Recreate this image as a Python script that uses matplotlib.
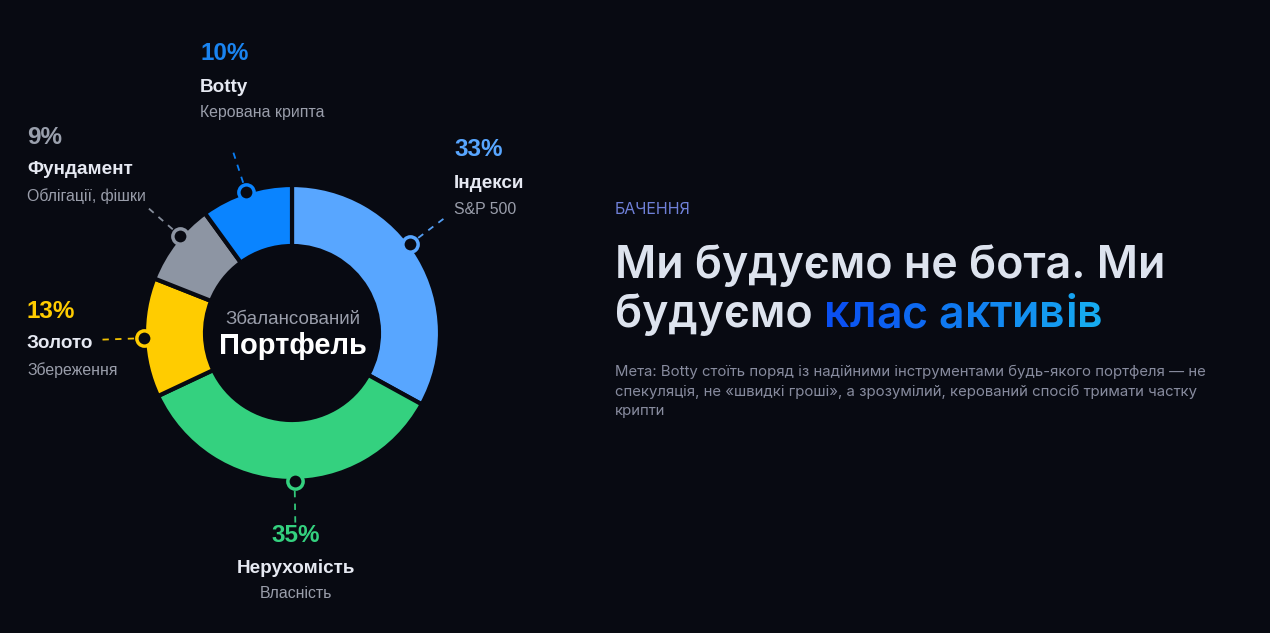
import numpy as np
import matplotlib.pyplot as plt
from matplotlib.colors import to_rgb

# дані портфеля (за годинниковою стрілкою від 12 години)
values = [33, 35, 13, 9, 10]
colors = ['#58a6ff', '#34d17f', '#ffcc00', '#8d95a3', '#0a84ff']
pct_colors = ['#58a6ff', '#34d17f', '#ffcc00', '#9aa0ad', '#1a84f0']
titles = ['Індекси', 'Нерухомість', 'Золото', 'Фундамент', 'Botty']
subtitles = ['S&P 500', 'Власність', 'Збереження', 'Облігації, фішки', 'Керована крипта']
# розмітка: кути маркерів (град. від 12 год) і позиції підписів (px)
marker_deg = [53, 179, 268, 311, 342]
label_x = [454, 296, 27, 27, 200]
label_y = [150, 535, 311, 137, 54]
label_ha = ['left', 'center', 'left', 'left', 'left']

bg = '#080a12'
W, H = 1270, 633
cx, cy = 292, 333
R, ring = 148, 61

fig = plt.figure(figsize=(12.7, 6.33), dpi=100, facecolor=bg)
ax = fig.add_axes([0, 0, 1, 1])
ax.set_facecolor(bg)

ax.pie(values, colors=colors, startangle=90, counterclock=False, radius=R,
       center=(cx, H - cy),
       wedgeprops=dict(width=ring, edgecolor=bg, linewidth=3))
ax.set_xlim(0, W)
ax.set_ylim(0, H)
ax.set_aspect('equal')
ax.axis('off')

lab_font = ['Liberation Sans', 'DejaVu Sans']


def T(x, y, s, **kw):
    kw.setdefault('family', lab_font)
    return ax.text(x, H - y, s, **kw)


# маркери та пунктирні виноски
for i, v in enumerate(values):
    th = np.deg2rad(marker_deg[i])
    dx, dy = np.sin(th), np.cos(th)
    mx, my = cx + R * dx, (H - cy) + R * dy
    ax.plot([cx + (R + 10) * dx, cx + (R + 46) * dx],
            [(H - cy) + (R + 10) * dy, (H - cy) + (R + 46) * dy],
            ls=(0, (3.5, 3.5)), lw=1.3, color=colors[i], alpha=0.95, zorder=3)
    ax.plot(mx, my, 'o', ms=11, mfc=bg, mec=colors[i], mew=2.5, zorder=4)

    x, y, ha = label_x[i], label_y[i], label_ha[i]
    T(x, y, f'{v}%', fontsize=17.5, fontweight='bold', color=pct_colors[i],
      ha=ha, va='center')
    T(x, y + 33, titles[i], fontsize=13.6, fontweight='bold', color='#e6e9f2',
      ha=ha, va='center')
    T(x, y + 59, subtitles[i], fontsize=11.4, color='#9a9eab', ha=ha, va='center')

# центр кільця
T(cx + 1, 319, 'Збалансований', fontsize=13.5, color='#9a9eab', ha='center', va='center')
T(cx + 1, 346, 'Портфель', fontsize=21, fontweight='bold', color='#ffffff',
  ha='center', va='center')

# права частина
rt_font = ['Inter', 'DejaVu Sans']
T(615, 209, 'БАЧЕННЯ', fontsize=11.5, color='#6f80d8', ha='left', va='center',
  family=rt_font)
head_kw = dict(fontsize=32.2, fontweight='semibold', family=rt_font, va='baseline', ha='left')
T(615, 278, 'Ми будуємо не бота. Ми', color='#dde3ee', **head_kw)
first = 'будуємо '
grad = 'клас активів'
T(615, 327, first, color='#dde3ee', **head_kw)

renderer = fig.canvas.get_renderer()


def width(s):
    t = T(0, 0, s + '|', **head_kw)
    w = t.get_window_extent(renderer).width
    t.remove()
    return w


bar_w = width('')
c0, c1 = np.array(to_rgb('#0a50f2')), np.array(to_rgb('#16aaf0'))
n = len(grad)
for i, ch in enumerate(grad):
    if ch == ' ':
        continue
    x = 615 + width(first + grad[:i]) - bar_w
    f = i / (n - 1)
    T(x, 327, ch, color=tuple(c0 + (c1 - c0) * f), **head_kw)

body = ['Мета: Botty стоїть поряд із надійними інструментами будь-якого портфеля — не',
        'спекуляція, не «швидкі гроші», а зрозумілий, керований спосіб тримати частку',
        'крипти']
for k, line in enumerate(body):
    T(615, 372 + k * 19.7, line, fontsize=10.75, color='#878b9e', ha='left', va='center',
      family=rt_font)

plt.savefig('out.png', dpi=100, facecolor=bg)
